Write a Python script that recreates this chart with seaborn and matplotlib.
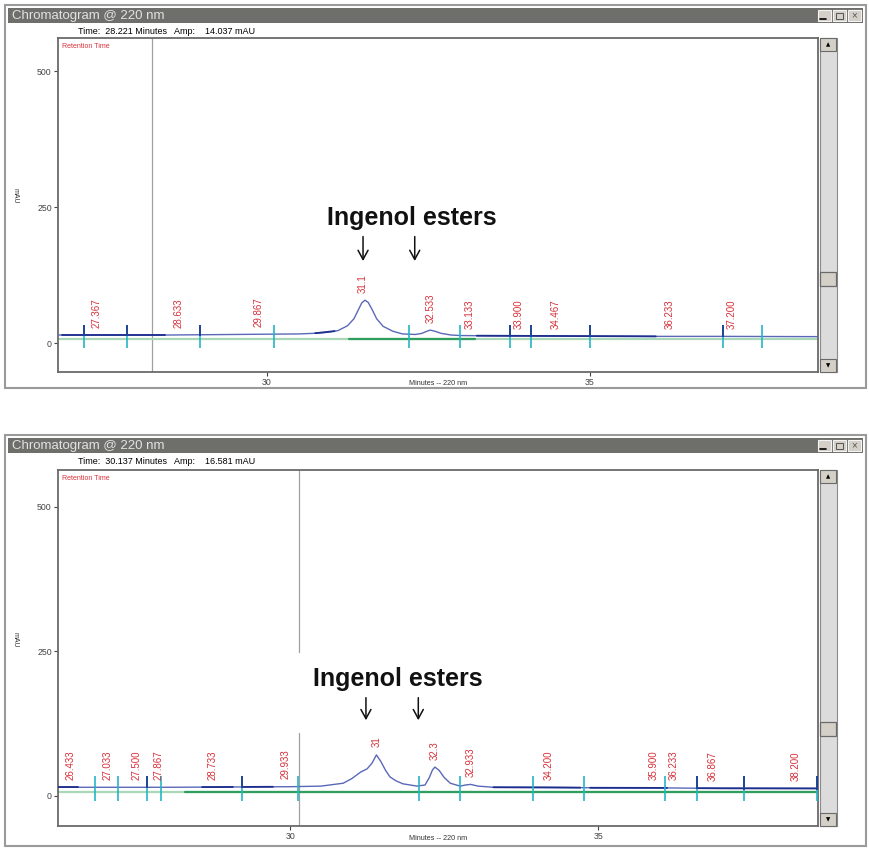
import numpy as np
import pandas as pd
import seaborn as sns
import matplotlib
matplotlib.use("Agg")
import matplotlib.pyplot as plt
from matplotlib.patches import Rectangle

sns.set_theme(style="white")
plt.rcParams['font.family'] = ['Liberation Sans', 'DejaVu Sans']

# ---------------- data: top chromatogram ----------------
top_time = [26.77, 27.5, 28.5, 29.0, 29.5, 30.0, 30.5, 30.71, 30.9, 31.1, 31.25, 31.35, 31.42,
            31.47, 31.52, 31.57, 31.63, 31.70, 31.80, 31.95, 32.1, 32.3, 32.4, 32.48, 32.53,
            32.6, 32.7, 32.85, 33.0, 33.5, 34.0, 35.0, 36.0, 37.0, 38.53]
top_mau = [15, 15, 15, 15.5, 16, 16.5, 17, 18, 19.5, 23, 32, 45, 62,
           74, 79, 75, 62, 45, 31, 22, 17, 16, 18, 22, 24,
           22, 18, 15, 14, 13.5, 13.5, 13, 12.5, 12.5, 12]
top_marks = [27.17, 27.83, 28.96, 30.12, 32.20, 32.99, 33.76, 34.09, 35.0, 37.06, 37.66]
top_mark_blue = [True, True, True, False, False, False, True, True, True, True, False]
top_labels = ["27.367", "28.633", "29.867", "31.1", "32.533", "33.133", "33.900",
              "34.467", "36.233", "37.200"]
top_label_t = [27.367, 28.633, 29.867, 31.49, 32.533, 33.133, 33.900, 34.467, 36.233, 37.200]
top_cursor, top_amp = 28.221, 14.037

# ---------------- data: bottom chromatogram ----------------
bot_time = [26.23, 27.0, 28.0, 29.0, 30.0, 30.5, 30.86, 31.0, 31.14, 31.25, 31.33, 31.40,
            31.47, 31.55, 31.62, 31.72, 31.83, 32.06, 32.19, 32.26, 32.31, 32.35, 32.42,
            32.5, 32.6, 32.76, 32.85, 32.93, 33.05, 33.3, 34.2, 35.0, 36.0, 37.0, 38.0, 38.57]
bot_mau = [15, 15, 15, 15.5, 16, 17, 22, 30, 41, 47, 57, 71,
           60, 44, 33, 26, 21, 17, 19, 32, 45, 50, 44,
           32, 22, 17, 19, 20, 17, 15, 15, 14, 14, 13, 13, 13]
bot_marks = [26.83, 27.21, 27.68, 27.91, 29.22, 30.13, 32.09, 32.76, 33.94, 34.77,
             36.09, 36.61, 37.37, 38.55]
bot_mark_blue = [False, False, True, False, True, False, False, False, False, False,
                 False, True, True, True]
bot_labels = ["26.433", "27.033", "27.500", "27.867", "28.733", "29.933", "31", "32.3",
              "32.933", "34.200", "35.900", "36.233", "36.867", "38.200"]
bot_label_t = [26.433, 27.033, 27.500, 27.867, 28.733, 29.933, 31.40, 32.35,
               32.933, 34.200, 35.900, 36.233, 36.867, 38.200]
bot_cursor, bot_amp = 30.137, 16.581

W, H = 870, 848
fig = plt.figure(figsize=(W / 100, H / 100), dpi=100)
fig.patch.set_facecolor("white")

chrome = fig.add_axes([0, 0, 1, 1], zorder=0)
chrome.set_xlim(0, W)
chrome.set_ylim(H, 0)
chrome.axis("off")

TRACE = "#5a68b8"
NAVY = "#1c2f8c"
CYAN = "#25b5c5"
RED = "#d8303a"
PALEG = "#a8d8b8"
GREEN = "#2f9e5e"


def window(y0, y1, plot_top, plot_bot, thumb_y, cursor, amp, ylab_y):
    chrome.add_patch(Rectangle((5, y0), 861, y1 - y0, facecolor="white",
                               edgecolor="#9a9a9a", lw=1.5))
    chrome.add_patch(Rectangle((8, y0 + 3), 855, 15, facecolor="#6e6e6a", edgecolor="none"))
    chrome.text(12, y0 + 10.5, "Chromatogram @ 220 nm", color="#e2e2e2", fontsize=9.5,
                va="center", ha="left")
    for bx in (818, 833, 848):
        chrome.add_patch(Rectangle((bx, y0 + 5), 13, 11, facecolor="#d4d0c8",
                                   edgecolor="#f4f4f4", lw=0.8))
    chrome.plot([820, 826], [y0 + 13.5, y0 + 13.5], color="black", lw=1.2)
    chrome.add_patch(Rectangle((836.5, y0 + 7.5), 7, 6, facecolor="none", edgecolor="#555", lw=0.7))
    chrome.text(854.5, y0 + 10.5, "×", fontsize=7, ha="center", va="center", color="#555")
    chrome.text(78, y0 + 26, f"Time:  {cursor:.3f} Minutes   Amp:    {amp:.3f} mAU",
                fontsize=6.5, va="center", ha="left", color="black")
    chrome.add_patch(Rectangle((820, plot_top), 17, plot_bot - plot_top,
                               facecolor="#dcdcdc", edgecolor="#8a8a8a", lw=0.8))
    for yy, sym in ((plot_top, "▲"), (plot_bot - 13, "▼")):
        chrome.add_patch(Rectangle((820.5, yy), 16, 13, facecolor="#d4d0c8",
                                   edgecolor="#6a6a6a", lw=0.8))
        chrome.text(828.5, yy + 6.5, sym, fontsize=4, ha="center", va="center",
                    color="black", family="DejaVu Sans")
    chrome.add_patch(Rectangle((820.5, thumb_y), 16, 14, facecolor="#d4d0c8",
                               edgecolor="#6a6a6a", lw=0.9))
    chrome.text(15, ylab_y, "mAU", fontsize=5, rotation=270, ha="center", va="center",
                color="#333")


def panel(plot_top, plot_bot, xlim, ylim, t, v, marks, blue, labels, label_t,
          cursor, navy_segs, green_segs, title_pos, mask=None):
    ax = fig.add_axes([58 / W, 1 - plot_bot / H, 760 / W, (plot_bot - plot_top) / H], zorder=2)
    ax.set_facecolor("white")
    ax.set_xlim(*xlim)
    ax.set_ylim(*ylim)
    ax.axvline(cursor, color="#a0a0a0", lw=0.9, zorder=1)
    if mask is not None:
        (mx0, mx1), (my0, my1) = mask
        ax.add_patch(Rectangle((mx0, my0), mx1 - mx0, my1 - my0, facecolor="white",
                               edgecolor="none", zorder=1.5))
    ax.plot([xlim[0], xlim[1]], [7, 7], color=PALEG, lw=1.6, zorder=2)
    for a, b in green_segs:
        ax.plot([a, b], [7, 7], color=GREEN, lw=1.6, zorder=3)
    df = pd.DataFrame({"t": t, "mAU": v})
    sns.lineplot(data=df, x="t", y="mAU", ax=ax, color=TRACE, lw=1.0,
                 estimator=None, sort=False, zorder=4)
    for a, b in navy_segs:
        ax.plot([a, b], [np.interp(a, t, v), np.interp(b, t, v)], color=NAVY, lw=1.3, zorder=5)
    for m, isb in zip(marks, blue):
        ax.vlines(m, -8, 34, color=CYAN, lw=1.2, zorder=6)
        if isb:
            ax.vlines(m, np.interp(m, t, v) - 2, 34, color=NAVY, lw=1.2, zorder=7)
    for lab, lt in zip(labels, label_t):
        near = [vv for tt, vv in zip(t, v) if abs(tt - lt) <= 0.08]
        base = max(near + [float(np.interp(lt, t, v))]) + 13
        ax.text(lt, base, lab, rotation=90, ha="center", va="bottom", fontsize=7,
                color=RED, zorder=8)
    ax.text(0.005, 0.985, "Retention Time", transform=ax.transAxes, fontsize=5,
            color=RED, ha="left", va="top")
    ax.set_xticks([30, 35])
    ax.set_xticklabels(["30", "35"])
    ax.set_yticks([0, 250, 500])
    ax.set_yticklabels(["0", "250", "500"])
    ax.tick_params(axis="both", direction="out", length=3, width=0.8, labelsize=6.3,
                   colors="#444", pad=1.5, bottom=True, left=True)
    ax.set_xlabel("")
    ax.set_ylabel("")
    ax.text(0.5, -0.025, "Minutes -- 220 nm", transform=ax.transAxes, fontsize=5.2,
            ha="center", va="top", color="#333")
    for s in ax.spines.values():
        s.set_color("#6a6a6a")
        s.set_linewidth(1.3)
    (tx, ty), arrows = title_pos
    ax.text(tx, ty, "Ingenol esters", fontsize=18, fontweight="bold", ha="center",
            va="center", color="#111", zorder=9)
    for axx, ytop, ybot in arrows:
        ax.annotate("", xy=(axx, ybot), xytext=(axx, ytop),
                    arrowprops=dict(arrowstyle="->,head_length=0.55,head_width=0.3",
                                    lw=1.1, color="#111", shrinkA=0, shrinkB=0), zorder=9)
    return ax


window(5, 388, 38, 372, 272, top_cursor, top_amp, 196)
window(435, 846, 470, 826, 722, bot_cursor, bot_amp, 640)

panel(38, 372, (26.77, 38.53), (-53, 561), top_time, top_mau, top_marks, top_mark_blue,
      top_labels, top_label_t, top_cursor,
      navy_segs=[(26.83, 28.42), (30.75, 31.05), (33.25, 36.02)],
      green_segs=[(31.28, 33.22)],
      title_pos=((32.25, 231), [(31.49, 196, 151), (32.29, 196, 151)]))

panel(470, 826, (26.23, 38.57), (-52, 564), bot_time, bot_mau, bot_marks, bot_mark_blue,
      bot_labels, bot_label_t, bot_cursor,
      navy_segs=[(26.23, 26.55), (28.57, 29.07), (29.24, 29.72), (33.3, 34.71),
                 (34.87, 36.12), (36.6, 38.55)],
      green_segs=[(28.3, 38.57)],
      title_pos=((31.75, 202), [(31.23, 170, 131), (32.08, 170, 131)]),
      mask=((30.1, 33.2), (109, 247)))

fig.savefig("out.png", dpi=100, facecolor="white")
